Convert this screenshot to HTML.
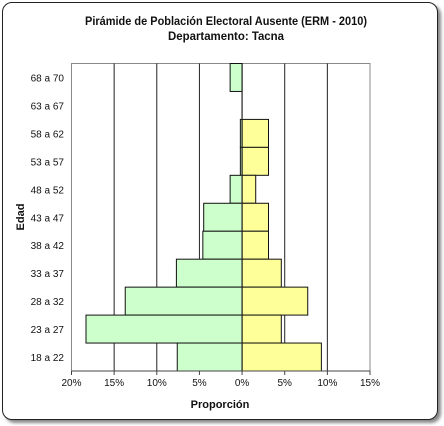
<!DOCTYPE html>
<html><head><meta charset="utf-8"><style>
body{margin:0;background:#fff;width:444px;height:426px;overflow:hidden}
#frame{position:absolute;left:2px;top:2px;width:434px;height:416px;border:1.5px solid #222;border-radius:10px;box-shadow:3px 3px 3px #888;background:#fff}
svg{position:absolute;left:0;top:0}
text{font-family:"Liberation Sans",Arial,sans-serif;fill:#111}
</style></head><body>
<div id="frame"></div>
<svg id="c" width="444" height="426">
<text x="226" y="25" text-anchor="middle" font-size="12" font-weight="bold" textLength="282" lengthAdjust="spacingAndGlyphs">Pirámide de Población  Electoral Ausente (ERM - 2010)</text>
<text x="226" y="40" text-anchor="middle" font-size="12" font-weight="bold" textLength="116" lengthAdjust="spacingAndGlyphs">Departamento: Tacna</text>
<text x="24" y="217" text-anchor="middle" font-size="11" font-weight="bold" transform="rotate(-90 24 217)">Edad</text>
<text x="220" y="408" text-anchor="middle" font-size="11" font-weight="bold">Proporción</text>
<text x="131" y="133" text-anchor="middle" font-size="13" font-weight="bold">Hombres</text>
<text x="328" y="139" text-anchor="middle" font-size="13" font-weight="bold">Mujeres</text>
</svg>
<script>
const categories=["68 a 70","63 a 67","58 a 62","53 a 57","48 a 52","43 a 47","38 a 42","33 a 37","28 a 32","23 a 27","18 a 22"];
const hombres=[1.4,0,0.2,0.2,1.4,4.5,4.6,7.7,13.7,18.3,7.6];
const mujeres=[0,0,3.1,3.1,1.6,3.1,3.1,4.6,7.7,4.6,9.3];
const ticks=[-20,-15,-10,-5,0,5,10,15];
const tickLabels=["20%","15%","10%","5%","0%","5%","10%","15%"];
const svg=document.getElementById('c'),NS="http://www.w3.org/2000/svg";
const L=71.5,R=370,T=63.5,B=371;
const x=v=>L+(v+20)/35*(R-L);
const rowH=(B-T)/categories.length;
const y=i=>T+i*rowH;
function mk(t,a){const e=document.createElementNS(NS,t);for(const k in a)e.setAttribute(k,a[k]);svg.appendChild(e);return e;}
const bg=mk('rect',{x:L,y:T,width:R-L,height:B-T,fill:'#fff',stroke:'#888','stroke-width':1});


ticks.forEach((t,i)=>{
 if(t!==-20&&t!==15&&t!==0){const g=mk('line',{x1:x(t),x2:x(t),y1:T,y2:B,stroke:'#222','stroke-width':1});
 
 }
 const tk=mk('line',{x1:x(t),x2:x(t),y1:B,y2:B+4,stroke:'#444'});
 
 
 const tx=mk('text',{x:x(t),y:B+15,'text-anchor':'middle','font-size':10});tx.textContent=tickLabels[i];
 
 
});
categories.forEach((c,i)=>{
 const h=hombres[i],m=mujeres[i];
 if(h>0){const r=mk('rect',{x:x(-h),y:y(i),width:x(0)-x(-h),height:rowH,fill:'#ccffcc',stroke:'#111','stroke-width':1});
 
 }
 if(m>0){const r=mk('rect',{x:x(0),y:y(i),width:x(m)-x(0),height:rowH,fill:'#ffff99',stroke:'#111','stroke-width':1});
 
 }
 const tx=mk('text',{x:64,y:y(i)+rowH/2+4,'text-anchor':'end','font-size':10});tx.textContent=c;
 
 
});
const ax=mk('line',{x1:x(0),x2:x(0),y1:T,y2:B,stroke:'#222','stroke-width':1.2});


const bx=mk('line',{x1:L,x2:R,y1:B,y2:B,stroke:'#444'});


</script>
</body></html>
